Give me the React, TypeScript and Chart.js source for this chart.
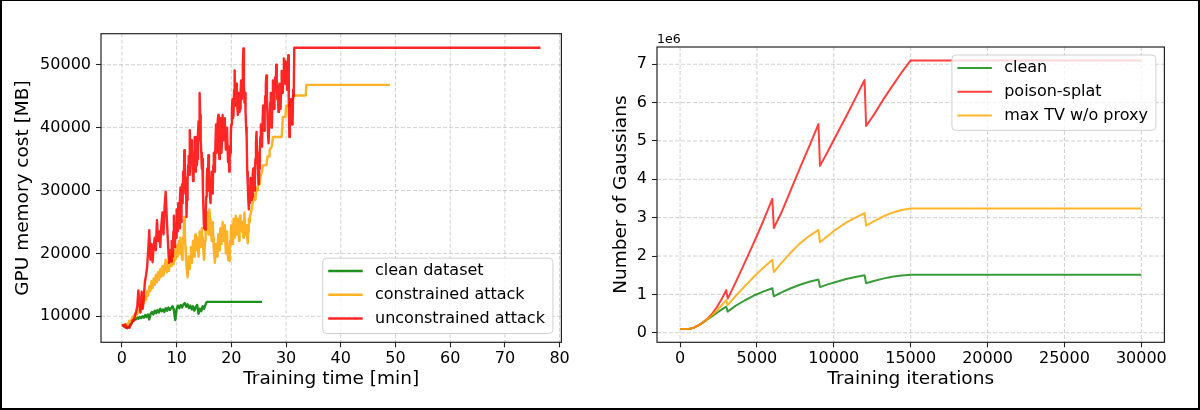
import React, { useEffect, useRef } from 'react';
import { Chart, registerables } from 'chart.js';

Chart.register(...registerables);

const FONT = "'DejaVu Sans', 'Liberation Sans', sans-serif";

// ---------- Left panel: GPU memory vs training time ----------
const timeTicks = [0, 10, 20, 30, 40, 50, 60, 70, 80];
const memTicks = [10000, 20000, 30000, 40000, 50000];

const cleanDataset: [number, number][] = [
  [0, 8500], [0.25, 8600], [0.5, 8300], [0.75, 8200], [1, 8400], [1.25, 8300], [1.5, 8700], [1.75, 9000],
  [2, 9400], [2.25, 9600], [2.5, 9500], [2.75, 9800], [3, 9600], [3.25, 9900], [3.5, 9700], [3.75, 10000],
  [4, 9800], [4.25, 10200], [4.5, 9900], [4.75, 10300], [5, 9500], [5.25, 10400], [5.5, 10700], [5.75, 10300],
  [6, 10900], [6.25, 10500], [6.5, 11000], [6.75, 10600], [7, 11200], [7.25, 10800], [7.5, 11100], [7.75, 10700],
  [8, 11300], [8.25, 10900], [8.5, 11400], [8.75, 11000], [9, 11300], [9.25, 11600], [9.5, 11000], [9.75, 9400],
  [10, 11200], [10.25, 11700], [10.5, 11300], [10.75, 11800], [11, 11400], [11.25, 11900], [11.5, 12100], [11.75, 11500],
  [12, 11900], [12.25, 11300], [12.5, 11700], [12.75, 11100], [13, 11600], [13.25, 10900], [13.5, 11500], [13.75, 11800],
  [14, 10400], [14.25, 11200], [14.5, 10800], [14.75, 11600], [15, 11200], [15.25, 11800], [15.5, 12300], [25.6, 12300],
];

const constrainedAttack: [number, number][] = [
  [0, 8600], [0.2, 8500], [0.4, 8700], [0.6, 8400], [0.8, 8800], [1, 8600], [1.2, 9000], [1.4, 9300],
  [1.6, 9100], [1.8, 9600], [2, 9900], [2.2, 10100], [2.4, 9800], [2.6, 10600], [2.8, 10300], [3, 11000],
  [3.2, 10700], [3.4, 11800], [3.6, 11200], [3.8, 12500], [4, 12000], [4.2, 13200], [4.4, 12600], [4.6, 14000],
  [4.8, 13300], [5, 14800], [5.2, 14000], [5.4, 15600], [5.6, 14500], [5.8, 16000], [6, 15000], [6.2, 16600],
  [6.4, 15400], [6.6, 17000], [6.8, 15800], [7, 17500], [7.2, 16300], [7.4, 18000], [7.6, 16500], [7.8, 17800],
  [8, 19000], [8.2, 17000], [8.4, 18500], [8.6, 17200], [8.8, 19500],
  [9, 18000], [9.1, 19500], [9.2, 20000], [9.3, 18800], [9.4, 18300], [9.5, 19800], [9.6, 20500], [9.7, 19200],
  [9.8, 19000], [9.9, 21200], [10, 21000], [10.1, 19800], [10.2, 19500], [10.3, 21500], [10.4, 22000], [10.5, 20500],
  [10.6, 20000], [10.7, 22500], [10.8, 21500], [10.9, 20000], [11, 19000], [11.1, 21000], [11.2, 22500], [11.3, 24000],
  [11.4, 25800], [11.5, 23500], [11.6, 21000], [11.7, 19500], [11.8, 18000], [11.9, 17000], [12, 16200], [12.1, 18000],
  [12.2, 19500], [12.3, 18500], [12.4, 17500], [12.5, 19500], [12.6, 21000], [12.7, 19500], [12.8, 18500], [12.9, 20500],
  [13, 22000], [13.1, 20500], [13.2, 19500], [13.3, 21500], [13.4, 23000], [13.5, 21500], [13.6, 20500], [13.7, 22000],
  [13.8, 22500], [13.9, 21000], [14, 19500], [14.1, 21500], [14.2, 23500], [14.3, 22000], [14.4, 21000], [14.5, 22500],
  [14.6, 24000], [14.7, 22500], [14.8, 21500], [14.9, 20000], [15, 19000], [15.1, 20500], [15.2, 22000], [15.3, 23500],
  [15.4, 24500], [15.5, 25500], [15.6, 26500], [15.7, 24500], [15.8, 23000], [15.9, 25000], [16, 27000], [16.1, 25500],
  [16.2, 24500], [16.3, 23000], [16.4, 22000], [16.5, 23500], [16.6, 25000], [16.7, 22500], [16.8, 20500], [16.9, 19500],
  [17, 18500], [17.1, 20000], [17.2, 21500], [17.3, 20500], [17.4, 19500], [17.5, 21500], [17.6, 23000], [17.7, 21500],
  [17.8, 20500], [17.9, 22500], [18, 24000], [18.1, 22500], [18.2, 21500], [18.3, 23500], [18.4, 25000], [18.5, 23500],
  [18.6, 22000], [18.7, 23000], [18.8, 24500], [18.9, 22000], [19, 20000], [19.1, 22000], [19.2, 23500], [19.3, 21000],
  [19.4, 19000], [19.5, 20500], [19.6, 18800], [19.7, 20500], [19.8, 22000], [19.9, 23500], [20, 24500], [20.1, 23000],
  [20.2, 21500], [20.3, 23500], [20.4, 25500], [20.5, 24000], [20.6, 22500], [20.7, 24500], [20.8, 26000], [20.9, 24500],
  [21, 23000], [21.1, 24500], [21.2, 25500], [21.3, 23500], [21.4, 22000], [21.5, 24000], [21.6, 26000], [21.7, 24500],
  [21.8, 23500], [21.9, 24500], [22, 25000], [22.1, 23500], [22.2, 22500], [22.3, 24500], [22.4, 26500], [22.5, 24500],
  [22.6, 23000], [22.7, 23500], [22.8, 24500], [22.9, 22500], [23, 21600], [23.1, 23500], [23.2, 25500], [23.3, 25000],
  [23.4, 26000], [23.6, 26500], [23.8, 27500],
  [24, 28500], [24.2, 29500], [24.4, 28500], [24.6, 30500], [24.8, 30000], [25, 31500], [25.2, 31000], [25.4, 32500],
  [25.6, 33000], [25.8, 34000], [26, 34000], [26.4, 34000], [26.6, 35400], [26.9, 35400], [27, 36500], [27.4, 37000],
  [27.6, 38500], [28.2, 38500], [29.2, 38500], [29.4, 41700], [29.9, 41700], [30, 43500], [30.6, 43500], [30.8, 44000],
  [31.4, 45100], [33.6, 45100], [33.7, 46800], [49, 46800],
];

const unconstrainedAttack: [number, number][] = [
  [0, 8500], [0.2, 8600], [0.4, 8400], [0.6, 8700], [0.8, 8200], [1, 8100], [1.2, 8300], [1.4, 8200],
  [1.6, 8600], [1.8, 8900], [2, 9400], [2.2, 9300], [2.4, 10200], [2.6, 10800], [2.8, 11500], [3, 14100],
  [3.2, 12000], [3.4, 10600], [3.6, 13900], [3.8, 11200], [4, 13000], [4.2, 15500], [4.4, 16500], [4.6, 17800],
  [4.8, 20500], [5, 23700], [5.2, 19000], [5.4, 21500], [5.6, 18600], [5.8, 21000], [6, 22500], [6.2, 20500],
  [6.4, 25300], [6.6, 22000], [6.8, 23500], [7, 21000], [7.2, 24500], [7.4, 26500], [7.6, 23000], [7.8, 27500],
  [8, 29800], [8.2, 25500], [8.4, 22000], [8.6, 18500], [8.8, 20500],
  [9, 18700], [9.1, 22000], [9.2, 21500], [9.3, 19500], [9.4, 23500], [9.5, 26000], [9.6, 21000], [9.7, 23000],
  [9.8, 24800], [9.9, 22500], [10, 27000], [10.1, 24500], [10.2, 23500], [10.3, 28000], [10.4, 26500], [10.5, 24000],
  [10.6, 28500], [10.7, 30500], [10.8, 25000], [10.9, 27500], [11, 31000], [11.1, 28000], [11.2, 33000], [11.3, 30500],
  [11.4, 36400], [11.5, 33000], [11.6, 29500], [11.7, 32000], [11.8, 25800], [11.9, 28500], [12, 31500], [12.1, 34000],
  [12.2, 35500], [12.3, 32500], [12.4, 39600], [12.5, 36000], [12.6, 34000], [12.7, 38000], [12.8, 37000], [12.9, 33500],
  [13, 31500], [13.1, 34500], [13.2, 36000], [13.3, 38500], [13.4, 33000], [13.5, 35500], [13.6, 38500], [13.7, 34000],
  [13.8, 35000], [13.9, 39000], [14, 41000], [14.1, 38000], [14.2, 45500], [14.3, 42000], [14.4, 38000], [14.5, 36000],
  [14.6, 33500], [14.7, 35000], [14.8, 30000], [14.9, 27000], [15, 24000], [15.1, 26500], [15.2, 23800], [15.3, 26000],
  [15.4, 29000], [15.5, 31500], [15.6, 33500], [15.7, 30000], [15.8, 35600], [15.9, 33000], [16, 31000], [16.1, 29000],
  [16.2, 28000], [16.3, 31500], [16.4, 33000], [16.5, 29500], [16.6, 30500], [16.7, 34000], [16.8, 36000], [16.9, 33000],
  [17, 34000], [17.1, 37500], [17.2, 40500], [17.3, 36000], [17.4, 37000], [17.5, 41000], [17.6, 42000], [17.7, 38000],
  [17.8, 35000], [17.9, 37500], [18, 39500], [18.1, 41500], [18.2, 36000], [18.3, 38500], [18.4, 42000], [18.5, 39000],
  [18.6, 38000], [18.7, 41000], [18.8, 41500], [18.9, 38500], [19, 36500], [19.1, 39500], [19.2, 40000], [19.3, 37000],
  [19.4, 34500], [19.5, 37000], [19.6, 33000], [19.7, 35500], [19.8, 36000], [19.9, 39000], [20, 40500], [20.1, 43000],
  [20.2, 44500], [20.3, 41500], [20.4, 42000], [20.5, 46000], [20.6, 49100], [20.7, 45000], [20.8, 43500], [20.9, 47000],
  [21, 46500], [21.1, 43000], [21.2, 42000], [21.3, 44500], [21.4, 45500], [21.5, 42500], [21.6, 43000], [21.7, 46000],
  [21.8, 47500], [21.9, 44500], [22, 47000], [22.1, 50000], [22.2, 52600], [22.3, 47000], [22.4, 44000], [22.5, 45500],
  [22.6, 42500], [22.7, 40000], [22.8, 38500], [22.9, 33000], [23, 31000], [23.1, 28500], [23.2, 27000], [23.3, 29500],
  [23.4, 28000], [23.5, 32000], [23.6, 31500], [23.7, 28500], [23.8, 29000], [23.9, 32500], [24, 33500], [24.1, 31000],
  [24.2, 30000], [24.3, 33000], [24.4, 35000], [24.5, 37500], [24.6, 39300], [24.7, 36000], [24.8, 34500], [24.9, 32000],
  [25, 31000], [25.1, 33500], [25.2, 36000], [25.3, 38500], [25.4, 40500], [25.5, 38000], [25.6, 37000], [25.7, 40500],
  [25.8, 43500], [25.9, 41000], [26, 39500], [26.1, 42500], [26.2, 45000], [26.3, 47000], [26.4, 48300], [26.5, 45000],
  [26.6, 42000], [26.7, 39000], [26.8, 37500], [26.9, 40000], [27, 41000], [27.1, 44000], [27.2, 45500], [27.3, 42500],
  [27.4, 40000], [27.5, 44000], [27.6, 47500], [27.7, 45000], [27.8, 43000], [27.9, 46500], [28, 48000], [28.1, 46000],
  [28.2, 50000], [28.3, 47500], [28.4, 44500], [28.5, 46000], [28.6, 42500], [28.7, 45500], [28.8, 47000], [28.9, 44000],
  [29, 43000], [29.1, 46500], [29.2, 49000], [29.3, 47000], [29.4, 45500], [29.5, 48500], [29.6, 51000], [29.7, 48000],
  [29.8, 47000], [29.9, 50500], [30, 50000], [30.1, 47500], [30.2, 46000], [30.3, 49500], [30.4, 51500], [30.5, 44000],
  [30.6, 38500], [30.7, 40000], [30.8, 41500], [30.9, 44500], [31, 43000], [31.1, 40500], [31.2, 41000], [31.3, 46000],
  [31.4, 45000], [31.5, 52700], [76.5, 52700],
];

// ---------- Right panel: number of Gaussians vs iterations (values in 1e6) ----------
const iterTicks = [0, 5000, 10000, 15000, 20000, 25000, 30000];
const gaussTicks = [0, 1, 2, 3, 4, 5, 6, 7];

const cleanGaussians: [number, number][] = [
  [0, 0.1], [300, 0.1], [600, 0.1], [900, 0.13], [1200, 0.19], [1500, 0.27], [1800, 0.35], [2100, 0.43],
  [2400, 0.52], [2700, 0.6], [3000, 0.68], [3100, 0.55], [3600, 0.7], [4200, 0.84], [4800, 0.97], [5400, 1.07],
  [6000, 1.16], [6100, 0.95], [6600, 1.05], [7200, 1.16], [7800, 1.25], [8400, 1.33], [9000, 1.39], [9100, 1.19],
  [9600, 1.26], [10200, 1.33], [10800, 1.4], [11400, 1.45], [12000, 1.5], [12100, 1.29], [12600, 1.35], [13200, 1.41],
  [13800, 1.46], [14400, 1.49], [15000, 1.51], [30000, 1.51],
];

const poisonSplat: [number, number][] = [
  [0, 0.1], [300, 0.1], [600, 0.1], [900, 0.13], [1200, 0.19], [1500, 0.27], [1800, 0.37], [2100, 0.5],
  [2400, 0.67], [2700, 0.87], [3000, 1.11], [3100, 0.89], [3600, 1.3], [4200, 1.82], [4800, 2.35], [5400, 2.9],
  [6000, 3.49], [6100, 2.73], [6600, 3.14], [7200, 3.72], [7800, 4.3], [8400, 4.86], [9000, 5.44], [9100, 4.35],
  [9600, 4.72], [10200, 5.18], [10800, 5.64], [11400, 6.11], [12000, 6.59], [12100, 5.39], [12600, 5.68], [13200, 6.07],
  [13800, 6.43], [14400, 6.78], [15000, 7.1], [30000, 7.1],
];

const maxTvNoProxy: [number, number][] = [
  [0, 0.1], [300, 0.1], [600, 0.1], [900, 0.13], [1200, 0.19], [1500, 0.27], [1800, 0.36], [2100, 0.46],
  [2400, 0.58], [2700, 0.71], [3000, 0.85], [3100, 0.72], [3600, 0.95], [4200, 1.21], [4800, 1.46], [5400, 1.69],
  [6000, 1.9], [6100, 1.58], [6600, 1.82], [7200, 2.09], [7800, 2.33], [8400, 2.52], [9000, 2.68], [9100, 2.36],
  [9600, 2.52], [10200, 2.71], [10800, 2.87], [11400, 3.0], [12000, 3.12], [12100, 2.79], [12600, 2.9], [13200, 3.03],
  [13800, 3.13], [14400, 3.2], [15000, 3.24], [30000, 3.24],
];

const GREEN_L = 'rgba(0,128,0,0.88)';
const ORANGE_L = 'rgba(255,165,0,0.85)';
const RED_L = 'rgba(255,0,0,0.85)';
const GREEN_R = 'rgba(0,128,0,0.78)';
const ORANGE_R = 'rgba(255,165,0,0.82)';
const RED_R = 'rgba(255,0,0,0.75)';

const toPts = (arr: [number, number][]) => arr.map(([x, y]) => ({ x, y }));

const framePlugin = {
  id: 'frameGrid',
  beforeDatasetsDraw(chart: any) {
    const { ctx, chartArea: a, scales } = chart;
    const x = scales.x;
    const y = scales.y;
    ctx.save();
    ctx.beginPath();
    ctx.rect(a.left, a.top, a.right - a.left, a.bottom - a.top);
    ctx.clip();
    ctx.strokeStyle = 'rgba(176,176,176,0.6)';
    ctx.lineWidth = 1;
    ctx.setLineDash([4, 2]);
    for (const t of x.ticks) {
      const px = x.getPixelForValue(t.value);
      ctx.beginPath();
      ctx.moveTo(px, a.top);
      ctx.lineTo(px, a.bottom);
      ctx.stroke();
    }
    for (const t of y.ticks) {
      const py = y.getPixelForValue(t.value);
      ctx.beginPath();
      ctx.moveTo(a.left, py);
      ctx.lineTo(a.right, py);
      ctx.stroke();
    }
    ctx.restore();
  },
  afterDatasetsDraw(chart: any) {
    const { ctx, chartArea: a } = chart;
    ctx.save();
    ctx.setLineDash([]);
    ctx.strokeStyle = '#222';
    ctx.lineWidth = 1.2;
    ctx.strokeRect(a.left, a.top, a.right - a.left, a.bottom - a.top);
    ctx.restore();
  },
};

const legendPlugin = {
  id: 'insideLegend',
  afterDraw(chart: any, _args: any, opts: any) {
    if (!opts || !opts.items) return;
    const { ctx, chartArea: a } = chart;
    ctx.save();
    ctx.font = `16px ${FONT}`;
    let maxW = 0;
    for (const it of opts.items) maxW = Math.max(maxW, ctx.measureText(it.label).width);
    const padL = 5.5;
    const lineLen = 34.5;
    const gap = 12.3;
    const padR = 8;
    const w = padL + lineLen + gap + maxW + padR;
    const h = 75.4;
    const right = a.right - 8.5;
    const left = right - w;
    const top = opts.corner === 'lower' ? a.bottom - 8.8 - h : a.top + 8;
    ctx.beginPath();
    const r = 4;
    ctx.moveTo(left + r, top);
    ctx.lineTo(left + w - r, top);
    ctx.arcTo(left + w, top, left + w, top + r, r);
    ctx.lineTo(left + w, top + h - r);
    ctx.arcTo(left + w, top + h, left + w - r, top + h, r);
    ctx.lineTo(left + r, top + h);
    ctx.arcTo(left, top + h, left, top + h - r, r);
    ctx.lineTo(left, top + r);
    ctx.arcTo(left, top, left + r, top, r);
    ctx.closePath();
    ctx.fillStyle = 'rgba(255,255,255,0.8)';
    ctx.fill();
    ctx.strokeStyle = 'rgba(204,204,204,0.9)';
    ctx.lineWidth = 1;
    ctx.stroke();
    opts.items.forEach((it: any, i: number) => {
      const cy = top + 13 + i * 23.7;
      ctx.beginPath();
      ctx.strokeStyle = it.color;
      ctx.lineWidth = it.width;
      ctx.moveTo(left + padL, cy);
      ctx.lineTo(left + padL + lineLen, cy);
      ctx.stroke();
      ctx.fillStyle = '#000';
      ctx.textBaseline = 'middle';
      ctx.textAlign = 'left';
      ctx.fillText(it.label, left + padL + lineLen + gap, cy);
    });
    ctx.restore();
  },
};

const offsetTextPlugin = {
  id: 'offsetText',
  afterDraw(chart: any, _args: any, opts: any) {
    if (!opts || !opts.text) return;
    const { ctx, chartArea: a } = chart;
    ctx.save();
    ctx.font = `12.5px ${FONT}`;
    ctx.fillStyle = '#000';
    ctx.textAlign = 'left';
    ctx.textBaseline = 'alphabetic';
    ctx.fillText(opts.text, a.left, a.top - 3.7);
    ctx.restore();
  },
};

function makeAxes(opts: {
  xMin: number; xMax: number; xTicks: number[]; xTitle: string;
  yMin: number; yMax: number; yTicks: number[]; yTitle: string;
  yWidth: number; xHeight: number; yTitlePad: number;
}) {
  const tickFont = { family: FONT, size: 16 };
  const titleFont = { family: FONT, size: 18.5 };
  const gridCommon = {
    display: true,
    drawOnChartArea: false,
    drawTicks: true,
    tickLength: 5,
    tickColor: '#222',
    tickWidth: 1.1,
    tickBorderDash: [],
  };
  return {
    x: {
      type: 'linear',
      min: opts.xMin,
      max: opts.xMax,
      afterBuildTicks: (s: any) => { s.ticks = opts.xTicks.map((v) => ({ value: v })); },
      afterFit: (s: any) => {
        s.height = opts.xHeight;
        s.paddingLeft = 0; s.paddingRight = 0; s.paddingTop = 0; s.paddingBottom = 0;
      },
      grid: gridCommon,
      border: { display: false },
      ticks: { font: tickFont, color: '#000', padding: 2, maxRotation: 0, minRotation: 0, autoSkip: false, callback: (v: any) => String(v) },
      title: { display: true, text: opts.xTitle, font: titleFont, color: '#000', padding: { top: 0, bottom: 19.6 } },
    },
    y: {
      type: 'linear',
      min: opts.yMin,
      max: opts.yMax,
      afterBuildTicks: (s: any) => { s.ticks = opts.yTicks.map((v) => ({ value: v })); },
      afterFit: (s: any) => {
        s.width = opts.yWidth;
        s.paddingLeft = 0; s.paddingRight = 0; s.paddingTop = 0; s.paddingBottom = 0;
      },
      grid: gridCommon,
      border: { display: false },
      ticks: { font: tickFont, color: '#000', padding: 5, autoSkip: false, callback: (v: any) => String(v) },
      title: { display: true, text: opts.yTitle, font: titleFont, color: '#000', padding: { top: opts.yTitlePad, bottom: 0 } },
    },
  };
}

const lineDs = (label: string, pts: [number, number][], color: string, width: number, order: number) => ({
  label,
  data: toPts(pts),
  borderColor: color,
  backgroundColor: color,
  borderWidth: width,
  pointRadius: 0,
  tension: 0,
  fill: false,
  borderJoinStyle: 'round',
  borderCapStyle: 'butt',
  order,
});

export default function App() {
  const leftRef = useRef<HTMLCanvasElement>(null);
  const rightRef = useRef<HTMLCanvasElement>(null);

  useEffect(() => {
    document.body.style.margin = '0';
    const memMin = 5870;
    const memMax = 54930;
    const left = new Chart(leftRef.current as HTMLCanvasElement, {
      type: 'line',
      data: {
        datasets: [
          lineDs('clean dataset', cleanDataset, GREEN_L, 2.4, 3),
          lineDs('constrained attack', constrainedAttack, ORANGE_L, 2.4, 2),
          lineDs('unconstrained attack', unconstrainedAttack, RED_L, 2.4, 1),
        ] as any,
      },
      options: {
        responsive: false,
        animation: false,
        events: [],
        layout: { padding: { left: 0, top: 33.7, right: 38.6, bottom: 0 } },
        plugins: {
          legend: { display: false },
          tooltip: { enabled: false },
          insideLegend: {
            corner: 'lower',
            items: [
              { label: 'clean dataset', color: GREEN_L, width: 2.5 },
              { label: 'constrained attack', color: ORANGE_L, width: 2.5 },
              { label: 'unconstrained attack', color: RED_L, width: 2.5 },
            ],
          },
        } as any,
        scales: makeAxes({
          xMin: -3.825, xMax: 80.325, xTicks: timeTicks, xTitle: 'Training time [min]',
          yMin: memMin, yMax: memMax, yTicks: memTicks, yTitle: 'GPU memory cost [MB]',
          yWidth: 101, xHeight: 67.7, yTitlePad: 12.2,
        }) as any,
      },
      plugins: [framePlugin, legendPlugin],
    });

    const right = new Chart(rightRef.current as HTMLCanvasElement, {
      type: 'line',
      data: {
        datasets: [
          lineDs('clean', cleanGaussians, GREEN_R, 2, 3),
          lineDs('poison-splat', poisonSplat, RED_R, 2, 2),
          lineDs('max TV w/o proxy', maxTvNoProxy, ORANGE_R, 2, 1),
        ] as any,
      },
      options: {
        responsive: false,
        animation: false,
        events: [],
        layout: { padding: { left: 0, top: 47, right: 35.6, bottom: 0 } },
        plugins: {
          legend: { display: false },
          tooltip: { enabled: false },
          insideLegend: {
            corner: 'upper',
            items: [
              { label: 'clean', color: GREEN_R, width: 2 },
              { label: 'poison-splat', color: RED_R, width: 2 },
              { label: 'max TV w/o proxy', color: ORANGE_R, width: 2 },
            ],
          },
          offsetText: { text: '1e6' },
        } as any,
        scales: makeAxes({
          xMin: -1500, xMax: 31500, xTicks: iterTicks, xTitle: 'Training iterations',
          yMin: -0.25, yMax: 7.45, yTicks: gaussTicks, yTitle: 'Number of Gaussians',
          yWidth: 57, xHeight: 67.7, yTitlePad: 10.5,
        }) as any,
      },
      plugins: [framePlugin, legendPlugin, offsetTextPlugin],
    });

    return () => {
      left.destroy();
      right.destroy();
    };
  }, []);

  return (
    <div style={{ position: 'absolute', left: 0, top: 0, width: 1200, height: 410, background: '#fff', overflow: 'hidden' }}>
      <canvas ref={leftRef} width={600} height={410} style={{ position: 'absolute', left: 0, top: 0, width: 600, height: 410 }} />
      <canvas ref={rightRef} width={600} height={410} style={{ position: 'absolute', left: 600, top: 0, width: 600, height: 410 }} />
      <div
        style={{
          position: 'absolute', left: 0, top: 0, width: 1200, height: 410, boxSizing: 'border-box',
          borderStyle: 'solid', borderColor: '#000', borderWidth: '1px 2px 2px 2px', pointerEvents: 'none',
        }}
      />
    </div>
  );
}
